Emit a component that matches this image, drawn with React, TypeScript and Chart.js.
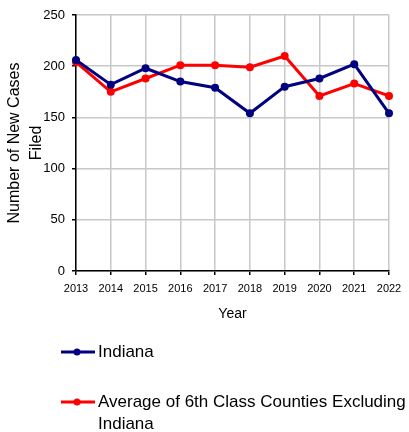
import React, { useEffect, useRef } from "react";
import { Chart, registerables } from "chart.js";

Chart.register(...registerables);

const years = ["2013", "2014", "2015", "2016", "2017", "2018", "2019", "2020", "2021", "2022"];
const indiana = [206, 182, 198, 185, 179, 154, 180, 188, 202, 154];
const average6th = [204, 175, 188, 201, 201, 199, 210, 171, 183, 171];
const seriesLabels = ["Indiana", "Average of 6th Class Counties Excluding Indiana"];
const legendLines = [["Indiana"], ["Average of 6th Class Counties Excluding", "Indiana"]];
const yTicks = [0, 50, 100, 150, 200, 250];

const FONT = "Arial, 'Liberation Sans', sans-serif";

const legendPlugin = {
  id: "customLegend",
  afterDraw(chart: any) {
    const ctx = chart.ctx;
    ctx.save();
    const rows = [352, 402];
    chart.data.datasets.forEach((ds: any, i: number) => {
      const y = rows[i];
      ctx.strokeStyle = ds.borderColor;
      ctx.lineWidth = 3;
      ctx.beginPath();
      ctx.moveTo(61, y);
      ctx.lineTo(95, y);
      ctx.stroke();
      ctx.fillStyle = ds.borderColor;
      ctx.beginPath();
      ctx.arc(77, y, 3.5, 0, Math.PI * 2);
      ctx.fill();
      ctx.fillStyle = "#000";
      ctx.font = `17px ${FONT}`;
      ctx.textBaseline = "middle";
      ctx.textAlign = "left";
      legendLines[i].forEach((t, j) => {
        ctx.fillText(t, 98, y + j * 22);
      });
    });
    ctx.restore();
  },
};

export default function App() {
  const ref = useRef<HTMLCanvasElement>(null);
  useEffect(() => {
    document.body.style.margin = "0";
    const chart = new Chart(ref.current!, {
      type: "line",
      data: {
        labels: years,
        datasets: [
          {
            label: seriesLabels[0],
            data: indiana,
            borderColor: "#000080",
            backgroundColor: "#000080",
            borderWidth: 3,
            pointRadius: 4,
            pointBackgroundColor: "#000080",
            pointBorderWidth: 0,
            tension: 0,
          },
          {
            label: seriesLabels[1],
            data: average6th,
            borderColor: "#ff0000",
            backgroundColor: "#ff0000",
            borderWidth: 3,
            pointRadius: 4,
            pointBackgroundColor: "#ff0000",
            pointBorderWidth: 0,
            tension: 0,
          },
        ],
      },
      options: {
        animation: false,
        responsive: true,
        maintainAspectRatio: false,
        layout: { padding: { top: 15, right: 20, bottom: 109, left: 0 } },
        plugins: {
          legend: { display: false },
          tooltip: { enabled: false },
        },
        scales: {
          x: {
            offset: false,
            afterFit(scale: any) {
              scale.height = 52;
            },
            grid: {
              color: "#c8c8c8",
              lineWidth: 1.5,
              tickColor: "#000",
              tickLength: 4,
              tickWidth: 1.5,
            },
            border: { color: "#000", width: 1.5 },
            ticks: {
              color: "#000",
              font: { family: FONT, size: 11 },
              padding: 7,
              maxRotation: 0,
              autoSkip: false,
            },
            title: {
              display: true,
              text: "Year",
              color: "#000",
              font: { family: FONT, size: 14 },
              padding: { top: 0, bottom: 0 },
            },
          },
          y: {
            min: 0,
            max: 250,
            afterFit(scale: any) {
              scale.width = 76;
            },
            afterBuildTicks(scale: any) {
              scale.ticks = yTicks.map((v) => ({ value: v }));
            },
            grid: {
              color: "#c8c8c8",
              lineWidth: 1.5,
              tickColor: "#000",
              tickLength: 4,
              tickWidth: 1.5,
            },
            border: { color: "#000", width: 1.5 },
            ticks: {
              color: "#000",
              font: { family: FONT, size: 13 },
              padding: 7,
            },
            title: {
              display: true,
              text: ["Number of New Cases", "Filed"],
              color: "#000",
              font: { family: FONT, size: 16, lineHeight: 1.375 },
              padding: { top: 4, bottom: 0 },
            },
          },
        },
      },
      plugins: [legendPlugin],
    });
    return () => chart.destroy();
  }, []);
  return (
    <div style={{ width: 409, height: 432, position: "relative" }}>
      <canvas ref={ref} />
    </div>
  );
}
